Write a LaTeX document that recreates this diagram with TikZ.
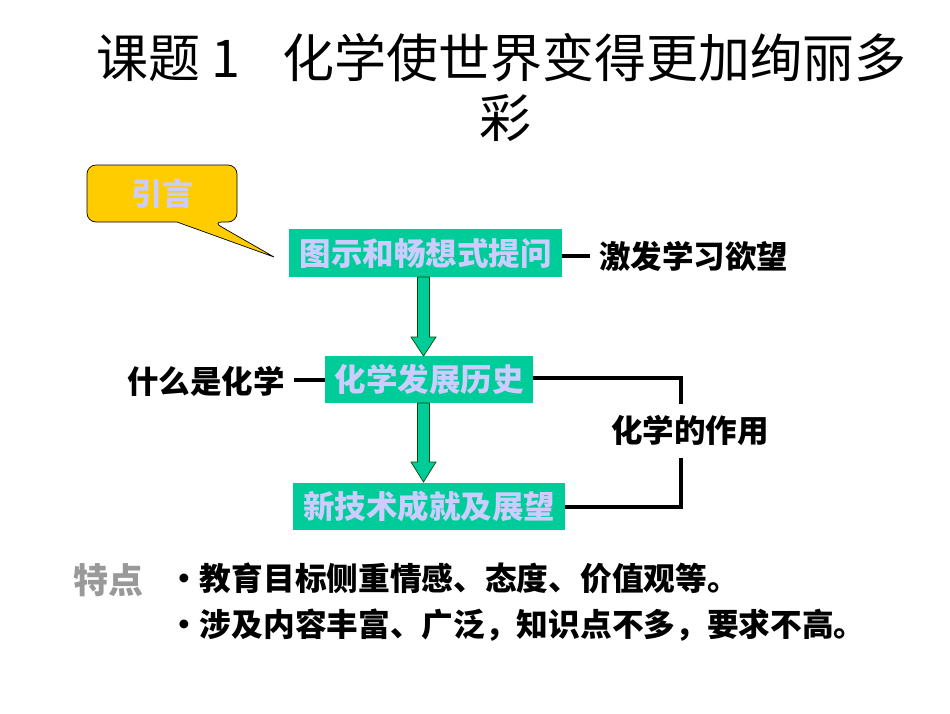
\documentclass[tikz,border=0pt]{standalone}
\usepackage{fontspec}
\setmainfont{Noto Sans CJK SC}
\newfontfamily\cjk{Noto Sans CJK SC}
\definecolor{boxgreen}{HTML}{00CC99}
\definecolor{lav}{HTML}{CCCCFF}
\definecolor{callout}{HTML}{FFCC00}
\definecolor{graytxt}{HTML}{999999}
\tikzset{
  greenbox/.style={fill=boxgreen, draw=none, inner sep=0pt, text=lav, font=\cjk\bfseries\fontsize{31.5}{34}\selectfont},
  blacklabel/.style={inner sep=0pt, text=black, font=\cjk\bfseries\fontsize{31.5}{34}\selectfont},
  titlefont/.style={inner sep=0pt, font=\cjk\fontsize{52}{56}\selectfont},
  bullettext/.style={inner sep=0pt, anchor=west, font=\cjk\bfseries\fontsize{31.7}{34}\selectfont},
  conn/.style={draw=black, line width=3.2pt},
  blockarrow/.style={fill=boxgreen, draw=black!70!green, line width=0.7pt},
}
\begin{document}
\begin{tikzpicture}[x=1pt,y=-1pt]
\useasboundingbox (0,0) rectangle (950,713);
% title
\node[titlefont, anchor=west] (title0) at (96,58) {课题 1};
\node[titlefont, anchor=west] (title1) at (282,58) {化学使世界变得更加绚丽多};
\node[titlefont] (title2) at (505,118) {彩};
% callout
\draw[fill=callout, draw=black, line width=0.7pt, rounded corners=9pt]
  (87,165) -- (237,165) -- (237,222) -- (213,222) [sharp corners]-- (274,257) -- (177,222) [rounded corners=9pt] -- (87,222) -- cycle;
\node[inner sep=0pt, text=lav, font=\cjk\bfseries\fontsize{31}{34}\selectfont] (intro) at (162,194) {引言};
% boxes
\node[greenbox, minimum width=273pt, minimum height=48pt] (b1) at (425.5,253) {图示和畅想式提问};
\node[greenbox, minimum width=208pt, minimum height=47pt] (b2) at (429,379.5) {化学发展历史};
\node[greenbox, minimum width=272pt, minimum height=47pt] (b3) at (429,506) {新技术成就及展望};
% block arrows
\draw[blockarrow] (417.5,277) -- (429.5,277) -- (429.5,337) -- (436,337) -- (423.5,356) -- (411,337) -- (417.5,337) -- cycle;
\draw[blockarrow] (417.5,403) -- (429.5,403) -- (429.5,462) -- (436,462) -- (423.5,482) -- (411,462) -- (417.5,462) -- cycle;
% labels
\node[blacklabel, anchor=west] (l1) at (599,256) {激发学习欲望};
\node[blacklabel, anchor=east] (l2) at (285,381) {什么是化学};
\node[blacklabel] (l3) at (690,430) {化学的作用};
\draw[conn] (b1.east |- 0,256) -- (590,256);
\draw[conn] (b2.west |- 0,380) -- (294,380);
\coordinate (c1) at (681,378);
\coordinate (c2) at (681,507);
\draw[conn] (b2.east |- 0,378) -- (c1) -- (681,404);
\draw[conn] (681,458) -- (c2) -- (b3.east |- c2);
% bottom
\node[inner sep=0pt, text=graytxt, font=\cjk\bfseries\fontsize{35}{38}\selectfont, anchor=west] (tedian) at (73,580) {特点};
\node[bullettext] (p1) at (168,578) {・教育目标侧重情感、态度、价值观等。};
\node[bullettext] (p2) at (168,625) {・涉及内容丰富、广泛，知识点不多，要求不高。};
\end{tikzpicture}
\end{document}
